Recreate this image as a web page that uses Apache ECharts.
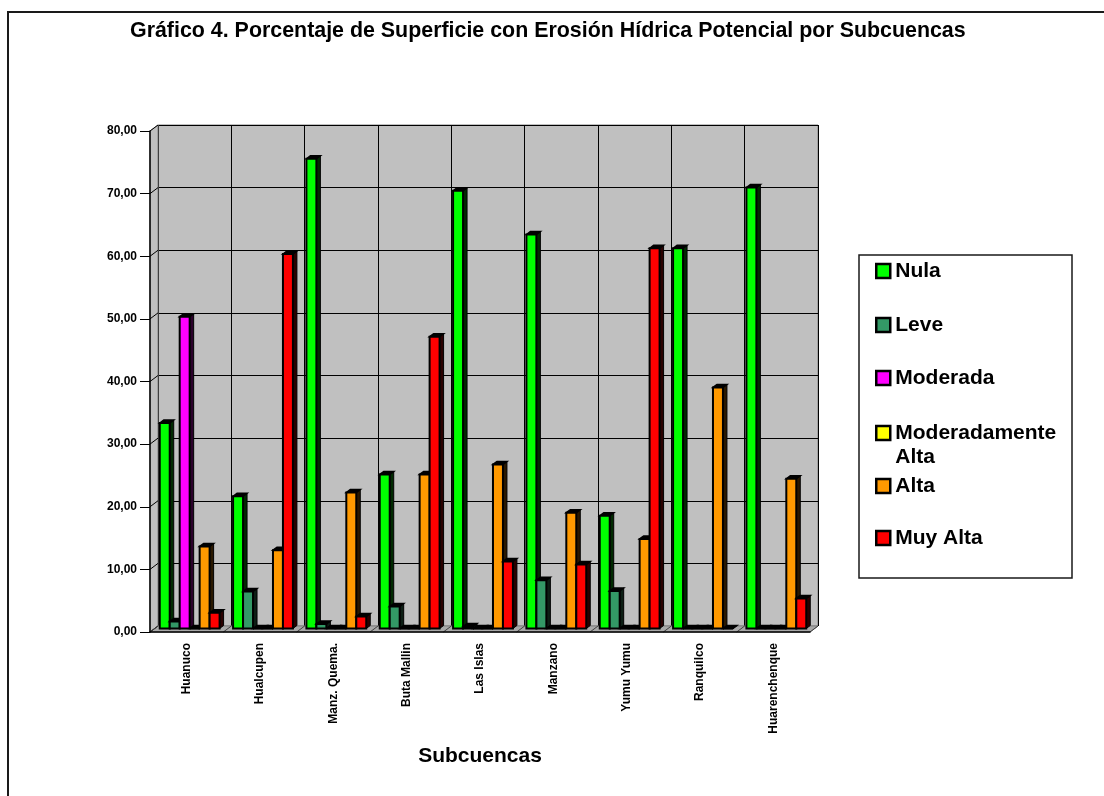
<!DOCTYPE html>
<html>
<head>
<meta charset="utf-8">
<title>Erosión Hídrica Potencial por Subcuencas</title>
<script src="https://cdn.jsdelivr.net/npm/echarts@6/dist/echarts.min.js"></script>
<style>
  html, body { margin: 0; padding: 0; background: #fff; }
  #chart { width: 1104px; height: 796px; }
</style>
</head>
<body>
<div id="chart"></div>
<script>
// Subcuencas (categorías del eje X)
const categories = ['Huanuco', 'Hualcupen', 'Manz. Quema.', 'Buta Mallin', 'Las Islas', 'Manzano', 'Yumu Yumu', 'Ranquilco', 'Huarenchenque'];

// Porcentaje de superficie por clase de erosión
const nula = [32.8, 21.1, 75.0, 24.6, 69.9, 62.9, 18.0, 60.7, 70.4];
const leve = [1.1, 5.9, 0.7, 3.5, 0.3, 7.7, 6.0, 0, 0];
const moderada = [49.8, 0, 0, 0, 0, 0, 0, 0, 0];
const moderadamenteAlta = [0, 0, 0, 0, 0, 0, 0, 0, 0];
const alta = [13.1, 12.5, 21.7, 24.6, 26.2, 18.5, 14.3, 38.5, 23.9];
const muyAlta = [2.5, 59.8, 1.9, 46.6, 10.7, 10.2, 60.7, 0, 4.8];

// Eje Y
const yMin = 0, yMax = 80, yStep = 10;

const seriesNames = ['Nula', 'Leve', 'Moderada', 'Moderadamente Alta', 'Alta', 'Muy Alta'];
const seriesData = [nula, leve, moderada, moderadamenteAlta, alta, muyAlta];
const colors = ['#00ff00', '#339966', '#ff00ff', '#ffff00', '#ff9900', '#ff0000'];
const sideColors = ['#002a00', '#0d1f15', '#2a002a', '#2a2a00', '#2a1800', '#2a0000'];

const FONT = '"Liberation Sans", Arial, Helvetica, sans-serif';

// Geometría de la caja 3D (pared del fondo, eje frontal y plano de las columnas)
const back = { left: 158, top: 125, width: 660, height: 501 };
const front = { left: 150, top: 131, width: 660, height: 501 };
const mid = { left: 153, top: 127.5, width: 660, height: 501 };

const chart = echarts.init(document.getElementById('chart'), null, { renderer: 'canvas' });

function renderColumn(params, api) {
  const s = params.seriesIndex;
  const cat = api.value(0);
  const v = api.value(1);
  const top = api.coord([cat, v]);
  const base = api.coord([cat, 0]);
  const band = api.size([1, 0])[0];
  const w = band * 0.136;
  const x0 = top[0] - 3 * w + s * w;
  const dx = 4, dy = 3;
  return {
    type: 'group',
    children: [
      {
        type: 'polygon',
        shape: { points: [[x0 + w, top[1]], [x0 + w + dx, top[1] - dy], [x0 + w + dx, base[1] - dy], [x0 + w, base[1]]] },
        style: { fill: sideColors[s], stroke: '#000', lineWidth: 1 }
      },
      {
        type: 'polygon',
        shape: { points: [[x0, top[1]], [x0 + dx, top[1] - dy], [x0 + w + dx, top[1] - dy], [x0 + w, top[1]]] },
        style: { fill: '#000', stroke: '#000', lineWidth: 1.5 }
      },
      {
        type: 'rect',
        shape: { x: x0, y: top[1], width: w, height: Math.max(0, base[1] - top[1]) },
        style: { fill: colors[s], stroke: '#000', lineWidth: 2 }
      }
    ]
  };
}

const series = seriesNames.map((name, i) => ({
  name: name,
  type: 'custom',
  xAxisIndex: 2,
  yAxisIndex: 2,
  z: 3,
  itemStyle: { color: colors[i], borderColor: '#000', borderWidth: 2 },
  renderItem: renderColumn,
  encode: { x: 0, y: 1 },
  data: seriesData[i].map((v, j) => [j, v])
}));

// Leyenda: una entrada por componente para controlar la posición vertical
const legendCenters = [271, 325, 378, 433, 486, 538];
const legends = seriesNames.map((name, i) => {
  const twoLine = name === 'Moderadamente Alta';
  return {
    data: [name],
    orient: 'vertical',
    left: 875,
    top: twoLine ? legendCenters[i] - 36 : legendCenters[i] - 12,
    padding: 0,
    itemGap: 0,
    itemWidth: 14,
    itemHeight: 14,
    icon: 'rect',
    itemStyle: { borderColor: '#000', borderWidth: 2.5 },
    formatter: n => (n === 'Moderadamente Alta' ? '\nModeradamente\nAlta' : n),
    textStyle: { fontFamily: FONT, fontSize: 21, fontWeight: 'bold', color: '#000', lineHeight: 24 },
    selectedMode: false
  };
});

// Paredes laterales y piso en perspectiva
const decor = [];
const px = front.width / categories.length;
const py = front.height / ((yMax - yMin) / yStep);
decor.push({
  type: 'polygon', z: 1,
  shape: { points: [[front.left, front.top], [back.left, back.top], [back.left, back.top + back.height], [front.left, front.top + front.height]] },
  style: { fill: '#c0c0c0', stroke: '#808080', lineWidth: 1 }
});
decor.push({
  type: 'polygon', z: 1,
  shape: { points: [[front.left, front.top + front.height], [back.left, back.top + back.height], [back.left + back.width, back.top + back.height], [front.left + front.width, front.top + front.height]] },
  style: { fill: '#a8a8a8', stroke: '#808080', lineWidth: 1 }
});
for (let k = 0; k <= (yMax - yMin) / yStep; k++) {
  decor.push({
    type: 'line', z: 1,
    shape: { x1: front.left, y1: front.top + front.height - k * py, x2: back.left, y2: back.top + back.height - k * py },
    style: { stroke: '#000', lineWidth: 1 }
  });
}
for (let k = 0; k <= categories.length; k++) {
  decor.push({
    type: 'line', z: 1,
    shape: { x1: front.left + k * px, y1: front.top + front.height, x2: back.left + k * px, y2: back.top + back.height },
    style: { stroke: '#404040', lineWidth: 1 }
  });
}
// Recuadro del gráfico y de la leyenda
decor.push({
  type: 'polyline', z: 0,
  shape: { points: [[8, 796], [8, 12], [1104, 12]] },
  style: { stroke: '#1a1a1a', lineWidth: 2, fill: null }
});
decor.push({
  type: 'rect', z: 0,
  shape: { x: 859, y: 255, width: 213, height: 323 },
  style: { fill: '#fff', stroke: '#1a1a1a', lineWidth: 1.5 }
});

const yLabel = v => v.toFixed(2).replace('.', ',');

const option = {
  animation: false,
  backgroundColor: '#fff',
  title: {
    text: 'Gráfico 4. Porcentaje de Superficie con Erosión Hídrica Potencial por Subcuencas',
    left: 130,
    top: 21,
    padding: 0,
    textStyle: { fontFamily: FONT, fontSize: 21.4, fontWeight: 'bold', color: '#000' }
  },
  legend: legends,
  grid: [
    Object.assign({ show: true, backgroundColor: '#c0c0c0', borderColor: '#808080', borderWidth: 1, z: 0 }, back),
    Object.assign({}, front),
    Object.assign({}, mid)
  ],
  xAxis: [
    {
      gridIndex: 0, type: 'category', data: categories,
      axisLine: { show: false }, axisTick: { show: false }, axisLabel: { show: false },
      splitLine: { show: true, interval: 0, lineStyle: { color: '#000', width: 1 } }
    },
    {
      gridIndex: 1, type: 'category', data: categories, z: 5,
      axisLine: { lineStyle: { color: '#000', width: 1.5 } },
      axisTick: { length: 8, interval: 0, lineStyle: { color: '#000' } },
      axisLabel: { rotate: 90, interval: 0, margin: 11, fontFamily: FONT, fontSize: 12, fontWeight: 'bold', color: '#000' },
      name: 'Subcuencas', nameLocation: 'middle', nameGap: 114,
      nameTextStyle: { fontFamily: FONT, fontSize: 21, fontWeight: 'bold', color: '#000' }
    },
    { gridIndex: 2, type: 'category', data: categories, show: false }
  ],
  yAxis: [
    {
      gridIndex: 0, type: 'value', min: yMin, max: yMax, interval: yStep,
      axisLine: { show: false }, axisTick: { show: false }, axisLabel: { show: false },
      splitLine: { show: true, lineStyle: { color: '#000', width: 1 } }
    },
    {
      gridIndex: 1, type: 'value', min: yMin, max: yMax, interval: yStep, z: 5,
      axisLine: { show: true, lineStyle: { color: '#000', width: 1.5 } },
      axisTick: { show: true, length: 10, lineStyle: { color: '#000' } },
      axisLabel: { formatter: yLabel, margin: 13, fontFamily: FONT, fontSize: 12, fontWeight: 'bold', color: '#000' },
      splitLine: { show: false }
    },
    { gridIndex: 2, type: 'value', min: yMin, max: yMax, interval: yStep, show: false, splitLine: { show: false } }
  ],
  graphic: { elements: decor },
  series: series
};

chart.setOption(option);
</script>
</body>
</html>
